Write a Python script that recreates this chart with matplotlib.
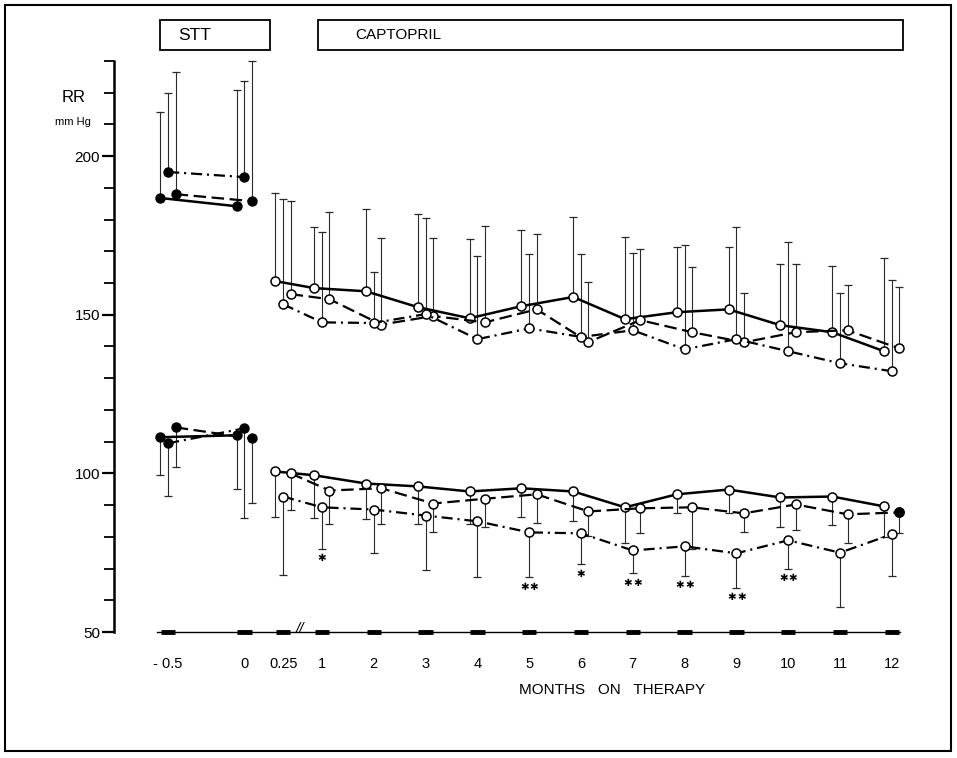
import matplotlib
matplotlib.use('Agg')
import matplotlib.pyplot as plt
from matplotlib.patches import Rectangle

plt.rcParams['font.family'] = ['Liberation Sans', 'DejaVu Sans']
plt.rcParams['lines.scale_dashes'] = False

# ---------------- data ----------------
stt_labels = ['- 0.5', '0']
cap_months = [0.25, 1, 2, 3, 4, 5, 6, 7, 8, 9, 10, 11, 12]
cap_labels = ['0.25', '1', '2', '3', '4', '5', '6', '7', '8', '9', '10', '11', '12']

# systolic (mean, SD upward)
sys_solid_stt = [186.8, 184.2]
sys_solid_cap = [160.6, 158.4, 157.4, 152.4, 148.9, 152.7, 155.6, 148.6, 150.8, 151.7, 146.7, 144.5, 138.5]
sys_solid_stt_sd = [27.1, 36.8]
sys_solid_cap_sd = [27.7, 19.2, 25.9, 29.3, 24.9, 24.0, 25.3, 25.8, 20.4, 19.5, 19.2, 20.8, 29.5]

sys_dashed_stt = [188.0, 185.8]
sys_dashed_cap = [156.5, 154.9, 146.9, 149.6, 147.6, 151.7, 141.4, 148.3, 144.5, 141.3, 144.5, 145.1, 139.4]
sys_dashed_stt_sd = [38.5, 44.2]
sys_dashed_cap_sd = [29.3, 27.4, 27.2, 24.5, 30.3, 23.7, 18.9, 22.3, 20.6, 15.6, 21.4, 14.2, 19.4]

sys_dashdot_stt = [195.0, 193.4]
sys_dashdot_cap = [153.3, 147.6, 147.4, 150.2, 142.3, 145.7, 143.0, 145.1, 139.1, 142.3, 138.5, 134.7, 132.2]
sys_dashdot_stt_sd = [25.0, 30.3]
sys_dashdot_cap_sd = [33.1, 28.4, 16.0, 30.2, 26.2, 23.4, 26.1, 24.5, 32.8, 35.4, 34.5, 22.2, 28.7]

# diastolic (mean, SD downward)
dia_solid_stt = [111.4, 112.0]
dia_solid_cap = [100.6, 99.4, 96.8, 95.9, 94.3, 95.3, 94.3, 89.3, 93.4, 94.9, 92.4, 92.7, 89.6]
dia_solid_stt_sd = [12.0, 17.0]
dia_solid_cap_sd = [14.2, 13.6, 11.3, 11.7, 10.4, 9.2, 9.4, 11.1, 6.0, 7.5, 9.4, 9.1, 9.8]

dia_dashed_stt = [114.5, 111.0]
dia_dashed_cap = [100.0, 94.6, 95.3, 90.5, 92.0, 93.4, 88.0, 89.0, 89.3, 87.4, 90.2, 87.1, 87.7]
dia_dashed_stt_sd = [12.5, 20.2]
dia_dashed_cap_sd = [11.7, 10.4, 11.1, 9.1, 9.0, 8.9, 7.6, 7.9, 13.0, 6.0, 8.2, 9.2, 6.6]

dia_dashdot_stt = [109.5, 114.2]
dia_dashdot_cap = [92.7, 89.3, 88.6, 86.7, 84.9, 81.4, 81.1, 75.7, 77.0, 74.8, 78.9, 75.0, 80.8]
dia_dashdot_stt_sd = [16.5, 28.4]
dia_dashdot_cap_sd = [24.6, 13.0, 13.8, 17.0, 17.7, 14.2, 9.8, 7.2, 9.2, 10.8, 8.9, 17.0, 13.0]

# significance markers for the dash-dot diastolic series
dia_dashdot_sig = ['', '*', '', '', '', '**', '*', '**', '**', '**', '**', '', '']

# ---------------- layout ----------------
W, H = 957, 758
fig = plt.figure(figsize=(W / 100, H / 100), dpi=100)
ax = fig.add_axes([114 / W, 1 - 632 / H, (905 - 114) / W, (632 - 60) / H])
ax.set_xlim(-3.015, 12.255)
ax.set_ylim(50, 230.3)

stt_pos = [-1.97, -0.5]      # broken axis positions of the STT time points
offs = {'solid': -0.15, 'dashdot': 0.0, 'dashed': 0.145}
styles = {'solid': dict(linestyle='-', lw=1.8),
          'dashed': dict(dashes=(9, 4), lw=1.6),
          'dashdot': dict(dashes=(8, 3.5, 1.5, 3.5), lw=1.6)}

ECOL = '#2a2a2a'


def bars(xs, ys, sds, up):
    for x, y, s in zip(xs, ys, sds):
        end = y + s if up else y - s
        ax.plot([x, x], [y, end], color=ECOL, lw=0.8, zorder=1)
        ax.plot([x], [end], marker='_', ms=6, mew=0.9, color=ECOL, zorder=1)


def series(kind, stt, stt_sd, cap, cap_sd, up, filled_last=False):
    xs_s = [p + offs[kind] for p in stt_pos]
    xs_c = [m + offs[kind] for m in cap_months]
    bars(xs_s, stt, stt_sd, up)
    bars(xs_c, cap, cap_sd, up)
    ax.plot(xs_s, stt, color='black', marker='o', ms=6.5, mfc='black',
            mec='black', zorder=3, **styles[kind])
    ax.plot(xs_c, cap, color='black', marker='o', ms=6.5, mfc='white',
            mec='black', mew=1.1, zorder=3, **styles[kind])
    if filled_last:
        ax.plot([xs_c[-1]], [cap[-1]], marker='o', ms=6.5, mfc='black', mec='black',
                zorder=4, linestyle='none')
    return xs_c


series('solid', sys_solid_stt, sys_solid_stt_sd, sys_solid_cap, sys_solid_cap_sd, True)
series('dashed', sys_dashed_stt, sys_dashed_stt_sd, sys_dashed_cap, sys_dashed_cap_sd, True)
series('dashdot', sys_dashdot_stt, sys_dashdot_stt_sd, sys_dashdot_cap, sys_dashdot_cap_sd, True)
series('solid', dia_solid_stt, dia_solid_stt_sd, dia_solid_cap, dia_solid_cap_sd, False)
series('dashed', dia_dashed_stt, dia_dashed_stt_sd, dia_dashed_cap, dia_dashed_cap_sd, False,
       filled_last=True)
xs_dd = series('dashdot', dia_dashdot_stt, dia_dashdot_stt_sd, dia_dashdot_cap,
               dia_dashdot_cap_sd, False)

for x, y, s, sig in zip(xs_dd, dia_dashdot_cap, dia_dashdot_cap_sd, dia_dashdot_sig):
    n = len(sig)
    for k in range(n):
        dx = (k - (n - 1) / 2) * 7.0
        ax.annotate('\u2731', xy=(x, y - s), xytext=(dx, -7),
                    textcoords='offset points', ha='center', va='center',
                    fontsize=7.5, family='DejaVu Sans', color='black')

# axes styling
for sp in ['top', 'right', 'bottom']:
    ax.spines[sp].set_visible(False)
ax.spines['left'].set_bounds(50, 230)
ax.spines['left'].set_linewidth(1.8)
ax.set_yticks([50, 100, 150, 200])
ax.set_yticks([v for v in range(60, 231, 10) if v % 50 != 0], minor=True)
ax.tick_params(axis='y', which='major', length=9, width=1.6, labelsize=11, pad=1)
ax.tick_params(axis='y', which='minor', length=7, width=1.3)

all_pos = stt_pos + cap_months
ax.set_xticks(all_pos)
ax.set_xticklabels(stt_labels + cap_labels)
ax.tick_params(axis='x', length=0, labelsize=10.5, pad=18)

# baseline with thick tick segments
ax.plot([-2.185, 12.16], [50, 50], color='black', lw=1.0, clip_on=False, zorder=2)
for p in all_pos:
    ax.plot([p - 0.14, p + 0.14], [50, 50], color='black', lw=3.5,
            solid_capstyle='butt', clip_on=False, zorder=2)
ax.text(0.575, 50.8, '//', ha='center', va='center', fontsize=11, style='italic',
        clip_on=False)

# texts
fig.text(62 / W, 1 - 97 / H, 'RR', fontsize=12, ha='left', va='center')
fig.text(55 / W, 1 - 122 / H, 'mm Hg', fontsize=8, ha='left', va='center')
fig.text(612 / W, 1 - 690 / H, 'MONTHS   ON   THERAPY', fontsize=11, ha='center', va='center')

# header boxes
fig.patches.append(Rectangle((160 / W, 1 - 50 / H), 110 / W, 30 / H, transform=fig.transFigure,
                             fill=False, lw=1.3, edgecolor='black'))
fig.patches.append(Rectangle((318 / W, 1 - 50 / H), 585 / W, 30 / H, transform=fig.transFigure,
                             fill=False, lw=1.3, edgecolor='black'))
fig.text(178 / W, 1 - 35 / H, 'STT', fontsize=12.5, ha='left', va='center')
fig.text(355 / W, 1 - 35 / H, 'CAPTOPRIL', fontsize=11, ha='left', va='center')

# outer frame
fig.patches.append(Rectangle((5 / W, 1 - 751 / H), 946 / W, 746 / H, transform=fig.transFigure,
                             fill=False, lw=1.5, edgecolor='black'))

fig.savefig('out.png', dpi=100)
